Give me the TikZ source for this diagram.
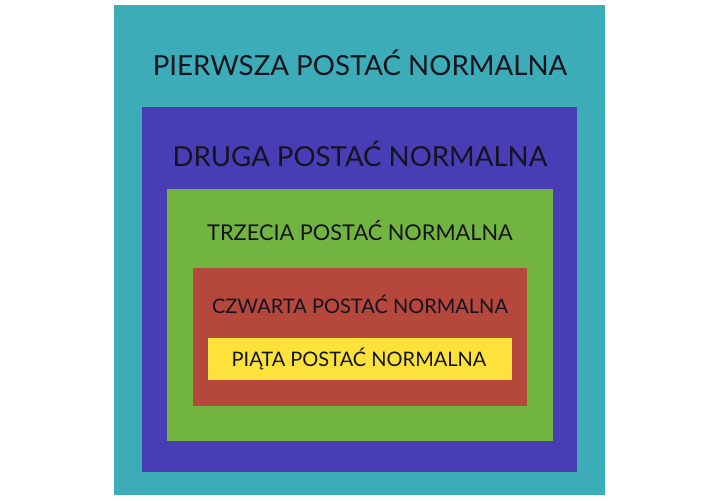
\documentclass[tikz,border=0pt]{standalone}
\usepackage{fontspec}
\setmainfont{Lato}

\begin{document}
\begin{tikzpicture}[x=0.75pt,y=0.75pt,yscale=-1,xscale=1,
  nazwa/.style={inner sep=0.75pt, text={rgb, 255:red, 20; green, 20; blue, 30 }}]
\useasboundingbox (0,0) rectangle (720,500); %set diagram to the 720 x 500 frame

%Shape: Rectangle [id:pierwsza]
\draw  [draw=none, fill={rgb, 255:red, 60; green, 173; blue, 184 }  ,fill opacity=1 ] (114,5) -- (605,5) -- (605,495) -- (114,495) -- cycle ;
%Shape: Rectangle [id:druga]
\draw  [draw=none, fill={rgb, 255:red, 73; green, 61; blue, 181 }  ,fill opacity=1 ] (142,107) -- (577,107) -- (577,472) -- (142,472) -- cycle ;
%Shape: Rectangle [id:trzecia]
\draw  [draw=none, fill={rgb, 255:red, 114; green, 180; blue, 64 }  ,fill opacity=1 ] (167,189) -- (553,189) -- (553,441) -- (167,441) -- cycle ;
%Shape: Rectangle [id:czwarta]
\draw  [draw=none, fill={rgb, 255:red, 181; green, 71; blue, 61 }  ,fill opacity=1 ] (193,268) -- (527,268) -- (527,406) -- (193,406) -- cycle ;
%Shape: Rectangle [id:piata]
\draw  [draw=none, fill={rgb, 255:red, 252; green, 226; blue, 58 }  ,fill opacity=1 ] (208,338) -- (512,338) -- (512,380) -- (208,380) -- cycle ;

% Text Node
\draw (360,63) node (tPierwsza) [nazwa, font=\fontsize{20.75}{25}\selectfont] {PIERWSZA POSTAĆ NORMALNA};
% Text Node
\draw (360,154) node (tDruga) [nazwa, font=\fontsize{20.7}{25}\selectfont] {DRUGA POSTAĆ NORMALNA};
% Text Node
\draw (360,231) node (tTrzecia) [nazwa, font=\fontsize{16.3}{19}\selectfont] {TRZECIA POSTAĆ NORMALNA};
% Text Node
\draw (360,304) node (tCzwarta) [nazwa, font=\fontsize{15}{18}\selectfont] {CZWARTA POSTAĆ NORMALNA};
% Text Node
\draw (359,359) node (tPiata) [nazwa, font=\fontsize{15}{18}\selectfont] {PIĄTA POSTAĆ NORMALNA};
\end{tikzpicture}
\end{document}
